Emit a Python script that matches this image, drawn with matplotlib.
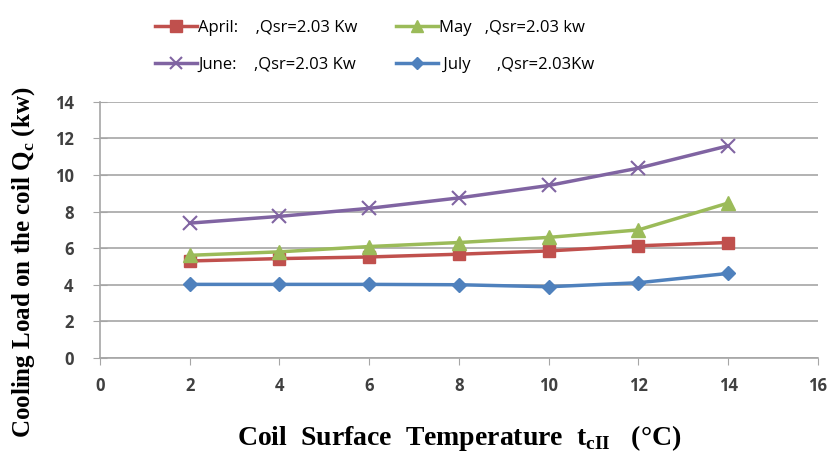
import matplotlib
matplotlib.use("Agg")
import matplotlib.pyplot as plt

plt.rcParams["mathtext.fontset"] = "custom"
plt.rcParams["mathtext.rm"] = "Liberation Serif"
plt.rcParams["mathtext.bf"] = "Liberation Serif:bold"

# coil surface temperature (deg C)
temps = [2, 4, 6, 8, 10, 12, 14]

# cooling load on the coil (kW)
april = [5.30, 5.43, 5.52, 5.67, 5.85, 6.13, 6.31]
may = [5.61, 5.80, 6.09, 6.31, 6.59, 7.00, 8.47]
june = [7.37, 7.74, 8.18, 8.75, 9.43, 10.38, 11.60]
july = [4.02, 4.02, 4.02, 4.00, 3.89, 4.11, 4.62]

labels = {"april": "April:    ,Qsr=2.03 Kw", "may": "May   ,Qsr=2.03 kw",
          "june": "June:    ,Qsr=2.03 Kw", "july": " July      ,Qsr=2.03Kw"}

xticks = [0, 2, 4, 6, 8, 10, 12, 14, 16]
yticks = [0, 2, 4, 6, 8, 10, 12, 14]

fig = plt.figure(figsize=(8.33, 4.53), dpi=100)
ax = fig.add_axes([0.12, 0.21, 0.862, 0.565])

lw = 2.5
l_apr, = ax.plot(temps, april, color="#C0504D", marker="s", ms=9, lw=lw)
l_may, = ax.plot(temps, may, color="#9BBB59", marker="^", ms=10, lw=lw)
l_jun, = ax.plot(temps, june, color="#8064A2", marker="x", ms=10, mew=1.5, lw=lw)
l_jul, = ax.plot(temps, july, color="#4F81BD", marker="D", ms=7, lw=lw)

ax.set_xlim(0, 16)
ax.set_ylim(0, 14)
ax.set_xticks(xticks)
ax.set_yticks(yticks)
ax.yaxis.grid(True, color="#A6A6A6", lw=1.2)
ax.set_axisbelow(True)

for s in ["top", "right"]:
    ax.spines[s].set_visible(False)
for s in ["left", "bottom"]:
    ax.spines[s].set_color("#A6A6A6")
    ax.spines[s].set_linewidth(1.2)

ax.tick_params(axis="x", direction="out", length=5, color="#A6A6A6", pad=9)
ax.tick_params(axis="y", direction="inout", length=10, color="#A6A6A6", pad=14)
for t in ax.get_xticklabels() + ax.get_yticklabels():
    t.set_fontfamily("Open Sans")
    t.set_fontweight("bold")
    t.set_fontsize(12)
    t.set_color("#404040")

ax.set_xlabel("Coil  Surface  Temperature  t$_{\\mathbf{cII}}$   (°C)",
              family="Liberation Serif", fontweight="bold", fontsize=20, labelpad=20)
ax.set_ylabel("Cooling Load on the coil Q$_{\\mathbf{c}}$ (kw)",
              family="Liberation Serif", fontweight="bold", fontsize=18)
ax.yaxis.set_label_coords(-0.088, 0.375)

# legend filled column by column, so order gives April/May on the first row
fig.legend([l_apr, l_jun, l_may, l_jul],
           [labels["april"], labels["june"], labels["may"], labels["july"]],
           ncol=2, frameon=False,
           loc="upper left", bbox_to_anchor=(0.168, 0.99),
           prop={"family": "Open Sans", "size": 12},
           handlelength=2.5, handletextpad=0.1, columnspacing=2.3,
           labelspacing=1.3, markerscale=0.9)

fig.savefig("out.png", dpi=100)
